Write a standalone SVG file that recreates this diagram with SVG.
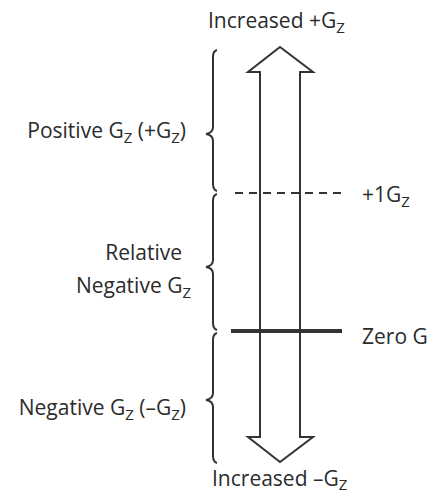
<svg xmlns="http://www.w3.org/2000/svg" width="431" height="495" viewBox="0 0 431 495">
<style>
text{font-family:"Open Sans","Noto Sans",sans-serif;font-size:21px;fill:#2b2b2b}
.sub{font-size:15px}
.brace{fill:none;stroke:#333;stroke-width:2}
.ln{stroke:#333;fill:none}
</style>
<rect width="431" height="495" fill="#fff"/>
<g id="connectors">
<path class="ln" stroke-width="2" d="M280,47 L313,72 L300,72 L300,437 L313,437 L280,462 L248,437 L260,437 L260,72 L248,72 Z" fill="#fff"/>
<line class="ln" x1="235" y1="193" x2="343" y2="193" stroke-width="2" stroke-dasharray="8,6"/>
<line class="ln" x1="231" y1="331" x2="342" y2="331" stroke-width="4" stroke="#111"/>
</g>
<g id="brace-positive"><path class="brace" d="M217,50 Q213,51 213,57 L213,127 Q213,133 206,134 Q213,135 213,141 L213,184 Q213,190 217,191"/>
<text x="186" y="138" text-anchor="end">Positive G<tspan class="sub" dy="5">Z</tspan><tspan dy="-5"> (+G</tspan><tspan class="sub" dy="5">Z</tspan><tspan dy="-5">)</tspan></text></g>
<g id="brace-relative"><path class="brace" d="M217,194 Q213,195 213,201 L213,260 Q213,266 206,267 Q213,268 213,274 L213,323 Q213,329 217,330"/>
<text x="182" y="260" text-anchor="end">Relative</text>
<text x="191" y="293" text-anchor="end">Negative G<tspan class="sub" dy="5">Z</tspan></text></g>
<g id="brace-negative"><path class="brace" d="M217,333 Q213,334 213,340 L213,393 Q213,399 206,400 Q213,401 213,407 L213,456 Q213,462 217,463"/>
<text x="186" y="415" text-anchor="end">Negative G<tspan class="sub" dy="5">Z</tspan><tspan dy="-5"> (–G</tspan><tspan class="sub" dy="5">Z</tspan><tspan dy="-5">)</tspan></text></g>
<g id="label-top"><text x="208" y="28">Increased +G<tspan class="sub" dy="5">Z</tspan></text></g>
<g id="label-1g"><text x="362" y="202">+1G<tspan class="sub" dy="5">Z</tspan></text></g>
<g id="label-zero"><text x="362" y="344">Zero G</text></g>
<g id="label-bottom"><text x="212" y="486">Increased –G<tspan class="sub" dy="4">Z</tspan></text></g>
</svg>
